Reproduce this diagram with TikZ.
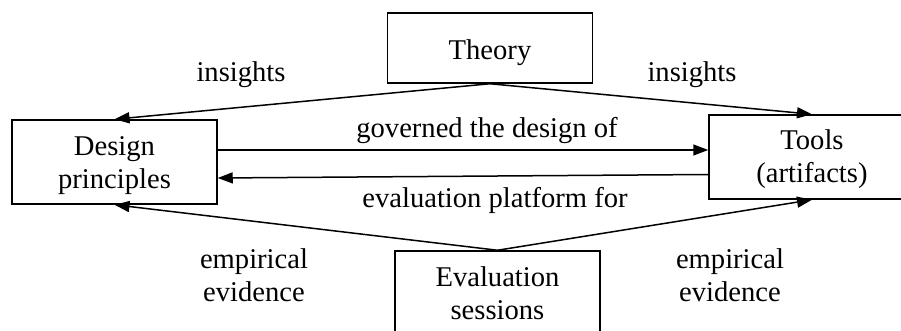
\documentclass[tikz,border=0pt]{standalone}
\usepackage{fontspec}
\setmainfont{Liberation Serif}
\usetikzlibrary{arrows.meta}
\newlength{\du}
\setlength{\du}{0.5pt}

\begin{document}
\begin{tikzpicture}
\definecolor{dialinecolor}{rgb}{0.000000, 0.000000, 0.000000}
\tikzset{
  diabox/.style={draw=dialinecolor, line width=1.5\du, inner sep=0pt,
    minimum width=205\du, minimum height=84\du, align=center,
    text height=27pt, text depth=0pt,
    font=\fontsize{14.3}{16.5}\selectfont},
  dialabel/.style={anchor=base, align=center, inner sep=0pt,
    font=\fontsize{14.3}{16.5}\selectfont},
  diaarrow/.style={draw=dialinecolor, line width=1.5\du,
    -{Triangle[length=7.5pt,width=5.5pt]}}
}
\useasboundingbox (0\du,0\du) rectangle (901\du,-331\du);
% boxes
\node[diabox, minimum height=70\du, text height=12pt] (theory) at (490\du,-48\du){Theory};
\node[diabox] (design) at (114.5\du,-162\du){Design\\principles};
\node[diabox, minimum width=206\du, text height=26pt] (tools) at (812\du,-157\du){Tools\\(artifacts)};
\node[diabox] (evaluation) at (497.5\du,-293\du){Evaluation\\sessions};
% connectors
\draw[diaarrow] (theory.south) -- (design.north);
\draw[diaarrow] (theory.south) -- (tools.north);
\draw[diaarrow] ([yshift=12\du]design.east) -- ([yshift=7\du]tools.west);
\draw[diaarrow] ([yshift=-17.5\du]tools.west) -- ([yshift=-16\du]design.east);
\draw[diaarrow] (evaluation.north) -- (design.south);
\draw[diaarrow] (evaluation.north) -- (tools.south);
% labels
\node[dialabel] (insightsl) at (241\du,-82\du){insights};
\node[dialabel] (insightsr) at (692\du,-82\du){insights};
\node[dialabel] (governed) at (487\du,-138\du){governed the design of};
\node[dialabel] (platform) at (495\du,-208\du){evaluation platform for};
\node[dialabel] (empiricall) at (254\du,-302\du){empirical\\evidence};
\node[dialabel] (empiricalr) at (730\du,-302\du){empirical\\evidence};
\end{tikzpicture}
\end{document}
